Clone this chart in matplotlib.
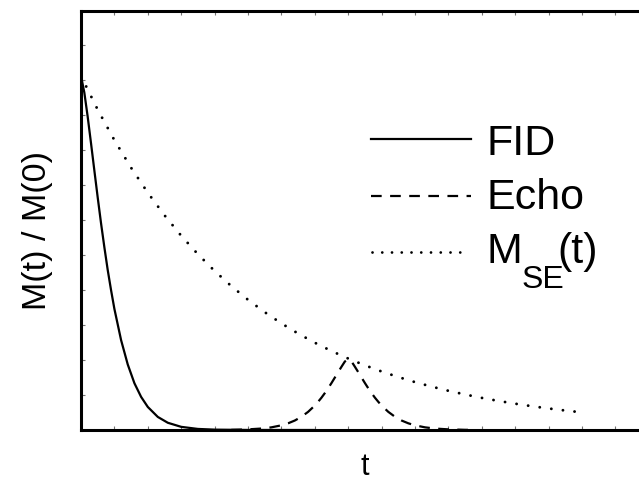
import matplotlib
matplotlib.use("Agg")
import matplotlib.pyplot as plt
from matplotlib.ticker import MultipleLocator
from matplotlib.lines import Line2D

plt.rcParams['font.family'] = ['Liberation Sans', 'DejaVu Sans']

# ---- data ----
fid_t = [0.0, 0.1, 0.2, 0.3, 0.4, 0.5, 0.6, 0.7, 0.8, 0.9, 1.0, 1.2, 1.4, 1.6,
         1.8, 2.0, 2.3, 2.6, 3.0, 3.5, 4.0, 5.0, 6.0, 7.0]
fid_m = [1.0, 0.953, 0.885, 0.810, 0.733, 0.657, 0.584, 0.516, 0.452, 0.395,
         0.342, 0.254, 0.185, 0.132, 0.0935, 0.0651, 0.0369, 0.0204, 0.0089,
         0.0030, 0.0010, 0.0001, 0.0, 0.0]

echo_t = [4.5, 5.0, 5.4, 5.7, 6.0, 6.2, 6.4, 6.6, 6.8, 7.0, 7.1, 7.2, 7.3, 7.4,
          7.5, 7.6, 7.7, 7.8, 7.9, 8.0, 8.1, 8.2, 8.3, 8.4, 8.5, 8.6, 8.7, 8.8,
          8.9, 9.0, 9.2, 9.4, 9.6, 9.8, 10.0, 10.3, 10.6, 11.0, 11.5, 11.8]
echo_m = [0.0003, 0.0018, 0.0041, 0.0075, 0.0132, 0.0189, 0.0267, 0.0374,
          0.0513, 0.0691, 0.0798, 0.0913, 0.1042, 0.118, 0.1327, 0.1481,
          0.1636, 0.1788, 0.1935, 0.200, 0.1935, 0.1788, 0.1636, 0.1481,
          0.1327, 0.118, 0.1042, 0.0913, 0.0798, 0.0691, 0.0513, 0.0374,
          0.0267, 0.0189, 0.0132, 0.0075, 0.0041, 0.0018, 0.0005, 0.0002]

mse_t = [0.0, 0.5, 1.0, 1.5, 2.0, 2.5, 3.0, 3.5, 4.0, 4.5, 5.0, 5.5, 6.0, 6.5,
         7.0, 7.5, 8.0, 8.5, 9.0, 9.5, 10.0, 10.5, 11.0, 11.5, 12.0, 12.5,
         13.0, 13.5, 14.0, 14.5, 15.0]
mse_m = [1.0, 0.9048, 0.8187, 0.7408, 0.6703, 0.6065, 0.5488, 0.4966, 0.4493,
         0.4066, 0.3679, 0.3329, 0.3012, 0.2725, 0.2466, 0.2231, 0.2019,
         0.1827, 0.1653, 0.1496, 0.1353, 0.1225, 0.1108, 0.1003, 0.0907,
         0.0821, 0.0743, 0.0672, 0.0608, 0.0550, 0.0498]

legend_labels = ["FID", "Echo"]
x_label = "t"
y_label = "M(t) / M(0)"

# ---- figure ----
W, H = 639, 483
fig = plt.figure(figsize=(W / 100, H / 100), dpi=100)

def fx(px):
    return px / W

def fy(py):
    return 1 - py / H

left_px, bottom_px, top_px = 81, 430, 10.5
x_unit_px = 33.4
y_unit_px = 354
xmax = 17
ymax = (bottom_px - top_px) / y_unit_px
ax_w_px = xmax * x_unit_px
ax_h_px = bottom_px - top_px

ax = fig.add_axes([fx(left_px), fy(bottom_px), ax_w_px / W, ax_h_px / H])
ax.set_xlim(0, xmax)
ax.set_ylim(0, ymax)

lw = 1.6
dot_style = (0, (0.01, 4.0))
ax.plot(fid_t, fid_m, color='black', lw=lw, solid_capstyle='round')
ax.plot(echo_t, echo_m, color='black', lw=lw, dashes=(4.8, 3.8))
ax.plot(mse_t, mse_m, color='black', lw=2.1, linestyle=dot_style,
        dash_capstyle='round')

for s in ax.spines.values():
    s.set_linewidth(2.2)

ax.xaxis.set_major_locator(MultipleLocator(1))
ax.yaxis.set_major_locator(MultipleLocator(35 / y_unit_px))
ax.tick_params(direction='in', length=3, width=0.8, color='0.45',
               top=True, right=True, labelbottom=False, labelleft=False)

ax.set_xlabel(x_label, fontsize=22)
ax.set_ylabel(y_label, fontsize=24.5)
ax.xaxis.set_label_coords((365 - left_px) / ax_w_px,
                          (bottom_px - 467) / ax_h_px)
ax.xaxis.label.set_va('center')
ax.yaxis.set_label_coords((38 - left_px) / ax_w_px,
                          (bottom_px - 230) / ax_h_px)
ax.yaxis.label.set_va('center')

# ---- legend drawn by hand ----
fs_leg = 31
line_x0, line_x1 = 371, 471
text_x = 487
rows_line = [139, 196, 252]
rows_base = [155, 209, 263]

fig.add_artist(Line2D([fx(line_x0), fx(line_x1)], [fy(rows_line[0])] * 2,
                      color='black', lw=lw))
fig.add_artist(Line2D([fx(line_x0), fx(line_x1)], [fy(rows_line[1])] * 2,
                      color='black', lw=lw, dashes=(4.8, 3.8)))
fig.add_artist(Line2D([fx(line_x0 + 1), fx(line_x1 - 4)], [fy(rows_line[2])] * 2,
                      color='black', lw=2.0, linestyle=(0, (0.01, 3.5)),
                      dash_capstyle='round'))

fig.text(fx(text_x), fy(rows_base[0]), legend_labels[0], fontsize=fs_leg,
         va='baseline', ha='left')
fig.text(fx(text_x), fy(rows_base[1]), legend_labels[1], fontsize=fs_leg,
         va='baseline', ha='left')
fig.text(fx(text_x), fy(rows_base[2]), "M", fontsize=fs_leg,
         va='baseline', ha='left')
fig.text(fx(522), fy(288), "SE", fontsize=23, va='baseline', ha='left')
fig.text(fx(557), fy(rows_base[2]), "(t)", fontsize=fs_leg,
         va='baseline', ha='left')

fig.savefig("out.png", dpi=100)
